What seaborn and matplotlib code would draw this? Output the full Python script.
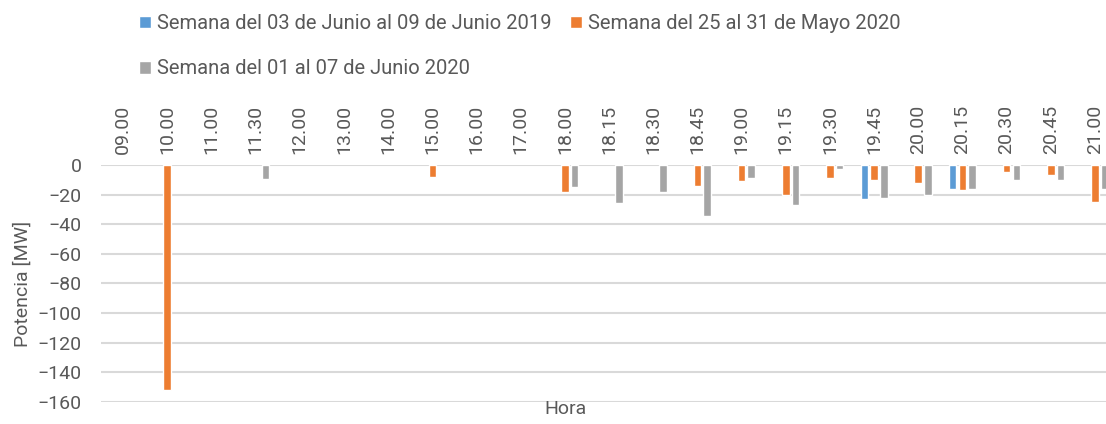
import numpy as np
import pandas as pd
import seaborn as sns
import matplotlib.pyplot as plt

horas = ['09.00', '10.00', '11.00', '11.30', '12.00', '13.00', '14.00', '15.00',
         '16.00', '17.00', '18.00', '18.15', '18.30', '18.45', '19.00', '19.15',
         '19.30', '19.45', '20.00', '20.15', '20.30', '20.45', '21.00']

series = ['Semana del 03 de Junio al 09 de Junio 2019',
          'Semana del 25 al 31 de Mayo 2020',
          'Semana del 01 al 07 de Junio 2020']

nan = np.nan
junio_2019 = [nan, nan, nan, nan, nan, nan, nan, nan, nan, nan, nan, nan,
              nan, nan, nan, nan, nan, -23, nan, -16.5, nan, nan, nan]
mayo_2020 = [nan, -152, nan, nan, nan, nan, nan, -8, nan, nan, -18.5, nan,
             nan, -14.5, -11, -20.5, -9, -10, -12.5, -17, -5, -7, -25]
junio_2020 = [nan, nan, nan, -9.5, nan, nan, nan, nan, nan, nan, -15, -26,
              -18, -34.5, -9, -27, -2.5, -22.5, -20, -16, -10, -10.5, -16]

colores = ['#5B9BD5', '#ED7D31', '#A5A5A5']

df = pd.DataFrame({
    'Hora': horas * 3,
    'Potencia': junio_2019 + mayo_2020 + junio_2020,
    'Serie': [series[0]] * len(horas) + [series[1]] * len(horas) + [series[2]] * len(horas),
})
df = df.dropna()

sns.set_style('white')
plt.rcParams['font.family'] = ['Roboto', 'DejaVu Sans']
txt = '#595959'

fig = plt.figure(figsize=(11.06, 4.24), dpi=100)
ax = fig.add_axes([0.0913, 0.052, 0.9087, 0.559])

sns.barplot(data=df, x='Hora', y='Potencia', hue='Serie', order=horas,
            hue_order=series, palette=colores, saturation=1, width=0.66, gap=0.22,
            errorbar=None, ax=ax, zorder=3)

ax.set_xlim(-0.5, 22.25)
ax.set_ylim(-160, 0)
ax.set_yticks(range(-160, 1, 20))
ax.yaxis.grid(True, color='#D9D9D9', linewidth=1.5, zorder=0)
ax.set_axisbelow(True)
for s in ax.spines.values():
    s.set_visible(False)

ax.xaxis.tick_top()
ax.tick_params(axis='x', length=0, rotation=90, labelsize=14, colors=txt, pad=8)
ax.tick_params(axis='y', length=0, labelsize=14, colors=txt, pad=14)
ax.set_xlabel('')
ax.set_ylabel('Potencia [MW]', fontsize=14, color=txt, labelpad=4)
fig.text(0.511, 0.015, 'Hora', ha='center', va='bottom', fontsize=14, color=txt)

handles, labels = ax.get_legend_handles_labels()
ax.legend([handles[0], handles[2], handles[1]], [labels[0], labels[2], labels[1]],
          ncol=2, frameon=False, loc='upper left', bbox_to_anchor=(0.113, 1.0),
          bbox_transform=fig.transFigure, fontsize=14.5, labelcolor=txt,
          handlelength=0.6, handleheight=0.6, handletextpad=0.3,
          columnspacing=0.9, labelspacing=1.3, borderaxespad=0.3)

fig.savefig('out.png', dpi=100)
